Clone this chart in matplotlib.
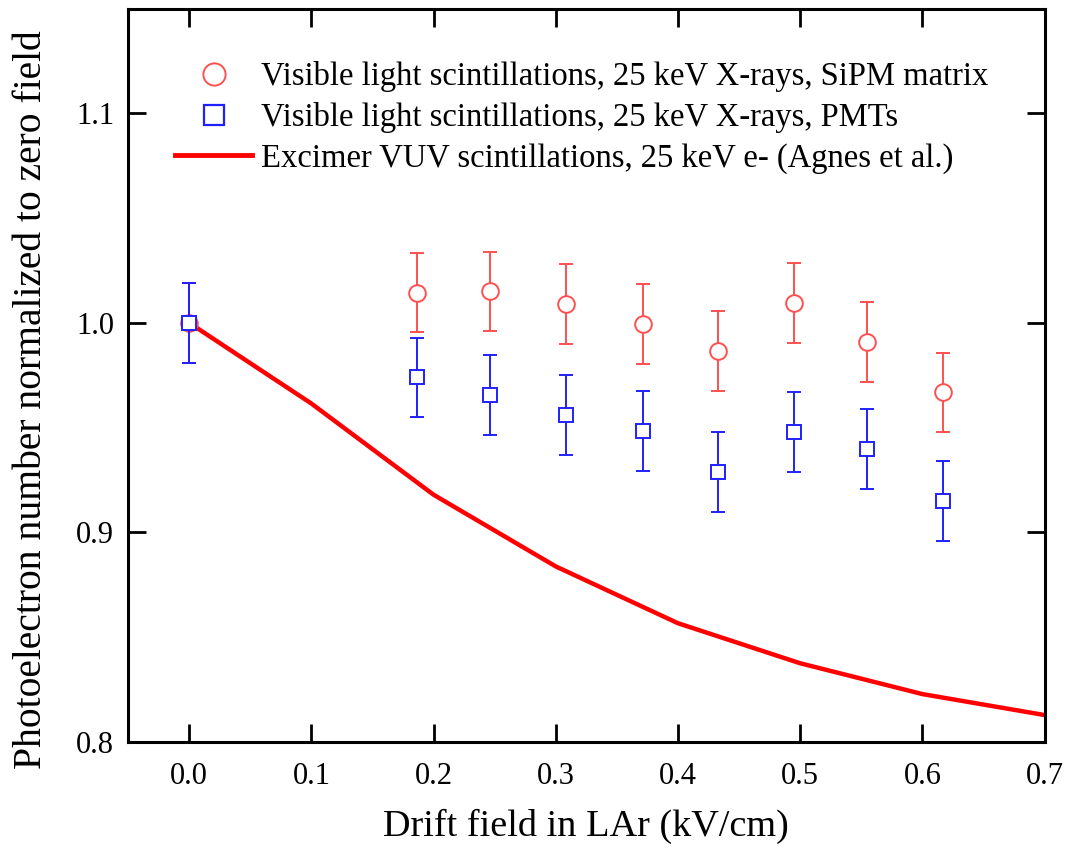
import numpy as np
import matplotlib.pyplot as plt
from matplotlib.lines import Line2D

plt.rcParams['font.family'] = ['Liberation Serif', 'DejaVu Serif']

# SiPM matrix data (visible light, 25 keV X-rays)
x_sipm = [0.0, 0.186, 0.246, 0.308, 0.371, 0.433, 0.495, 0.555, 0.617]
y_sipm = [1.0, 1.0145, 1.0150, 1.0090, 0.9995, 0.9865, 1.0095, 0.9910, 0.9668]
err_sipm = [0.019, 0.019, 0.019, 0.019, 0.019, 0.019, 0.019, 0.019, 0.019]

# PMT data
x_pmt = [0.0, 0.186, 0.246, 0.308, 0.371, 0.433, 0.495, 0.555, 0.617]
y_pmt = [1.0, 0.9740, 0.9655, 0.9562, 0.9484, 0.9288, 0.9478, 0.9398, 0.9150]
err_pmt = [0.019, 0.019, 0.019, 0.019, 0.019, 0.019, 0.019, 0.019, 0.019]

# Excimer VUV scintillations (Agnes et al.)
x_vuv = [0.0, 0.1, 0.2, 0.3, 0.4, 0.5, 0.6, 0.7]
y_vuv = [1.0, 0.9615, 0.918, 0.8838, 0.8567, 0.8376, 0.8229, 0.8129]

labels = ['Visible light scintillations, 25 keV X-rays, SiPM matrix',
          'Visible light scintillations, 25 keV X-rays, PMTs',
          'Excimer VUV scintillations, 25 keV e- (Agnes et al.)']

red_mk = '#ff5050'
blue_mk = '#2020ff'

fig = plt.figure(figsize=(10.68, 8.51), dpi=100)
ax = fig.add_axes([0.12, 0.128, 0.858, 0.862])

ax.plot(x_vuv, y_vuv, color='red', lw=3.2, zorder=2)
ax.errorbar(x_sipm, y_sipm, yerr=err_sipm, fmt='o', color=red_mk, mfc='white',
            mec=red_mk, ms=12, mew=1.4, elinewidth=1.4, capsize=5, capthick=1.4,
            zorder=3)
ax.errorbar(x_pmt, y_pmt, yerr=err_pmt, fmt='s', color=blue_mk, mfc='white',
            mec=blue_mk, ms=10.5, mew=1.4, elinewidth=1.4, capsize=5, capthick=1.4,
            zorder=4)

ax.set_xlim(-0.05, 0.7)
ax.set_ylim(0.8, 1.15)
ax.set_xticks(np.arange(0.0, 0.71, 0.1))
ax.set_yticks([0.8, 0.9, 1.0, 1.1])
ax.xaxis.set_major_formatter(plt.FormatStrFormatter('%.1f'))
ax.yaxis.set_major_formatter(plt.FormatStrFormatter('%.1f'))
ax.tick_params(direction='in', length=13, width=2, top=True, right=True,
               labelsize=22, pad=14)
ax.tick_params(axis='y', pad=10)
for s in ax.spines.values():
    s.set_linewidth(2.2)

ax.set_xlabel('Drift field in LAr (kV/cm)', fontsize=27.5, labelpad=13)
ax.set_ylabel('Photoelectron number normalized to zero field', fontsize=28.5)
ax.yaxis.set_label_coords(-0.085, 0.467)

handles = [
    Line2D([], [], ls='none', marker='o', ms=16, mfc='white', mec=red_mk, mew=1.4),
    Line2D([], [], ls='none', marker='s', ms=14, mfc='white', mec=blue_mk, mew=1.6),
    Line2D([], [], color='red', lw=3.5),
]
ax.legend(handles, labels, loc='upper left', bbox_to_anchor=(0.037, 0.946),
          frameon=False, fontsize=23.5, handlelength=2.36, handletextpad=0.28,
          labelspacing=0.3, borderaxespad=0)

fig.savefig('out.png', dpi=100)
